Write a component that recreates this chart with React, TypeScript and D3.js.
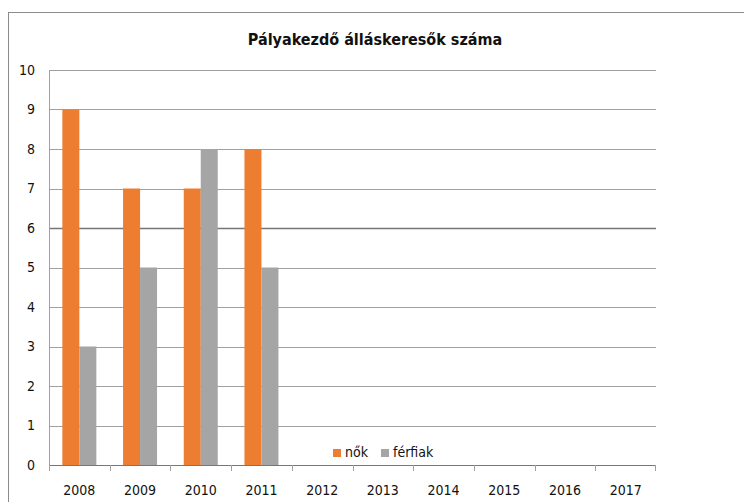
import React from 'react';
import * as d3 from 'd3';

const years = ['2008', '2009', '2010', '2011', '2012', '2013', '2014', '2015', '2016', '2017'];
const nok = [9, 7, 7, 8, null, null, null, null, null, null];
const ferfiak = [3, 5, 8, 5, null, null, null, null, null, null];
const yTicks = [0, 1, 2, 3, 4, 5, 6, 7, 8, 9, 10];
const seriesNames = ['nők', 'férfiak'];
const colors = ['#ed7d31', '#a5a5a5'];

const App = () => {
  const width = 744;
  const height = 502;
  const margin = { top: 70, right: 88, bottom: 37, left: 49 };
  const innerWidth = width - margin.left - margin.right;
  const innerHeight = height - margin.top - margin.bottom;

  const x = d3.scaleBand().domain(years).range([0, innerWidth]).paddingInner(0).paddingOuter(0);
  const y = d3.scaleLinear().domain([0, 10]).range([innerHeight, 0]);
  const barW = 17;
  const font = '"Liberation Sans Narrow", "DejaVu Sans Condensed", "Liberation Sans", sans-serif';

  return (
    <svg width={width} height={height} style={{ position: 'absolute', left: 0, top: 0, background: '#fff' }} fontFamily={font}>
      {/* outer frame */}
      <line x1={8.5} x2={8.5} y1={12} y2={height} stroke="#8c8c8c" />
      <line x1={8} x2={width} y1={12.5} y2={12.5} stroke="#8c8c8c" />
      <text x={375} y={45} textAnchor="middle" fontSize={16} fontWeight="bold" fill="#111">
        Pályakezdő álláskeresők száma
      </text>
      <g transform={`translate(${margin.left},${margin.top})`}>
        {yTicks.map((t) => (
          <g key={t}>
            <line x1={0} x2={innerWidth} y1={Math.round(y(t)) + 0.5} y2={Math.round(y(t)) + 0.5}
              stroke={t === 6 || t === 0 ? '#767676' : '#a0a0a0'} strokeWidth={t === 6 ? 1.5 : 1} />
            <text x={-14} y={y(t)} dy="0.35em" textAnchor="end" fontSize={14} fill="#111">{t}</text>
          </g>
        ))}
        <line x1={0.5} x2={0.5} y1={0} y2={innerHeight} stroke="#a0a0a0" />
        {years.map((yr, i) => {
          const cx = (x(yr) ?? 0) + x.bandwidth() / 2;
          return (
            <g key={yr}>
              <line x1={Math.round(x(yr) ?? 0) + 0.5} x2={Math.round(x(yr) ?? 0) + 0.5} y1={innerHeight} y2={innerHeight + 6} stroke="#a0a0a0" />
              {nok[i] != null && (
                <rect x={cx - barW} y={y(nok[i] as number)} width={barW} height={innerHeight - y(nok[i] as number)} fill={colors[0]} />
              )}
              {ferfiak[i] != null && (
                <rect x={cx} y={y(ferfiak[i] as number)} width={barW} height={innerHeight - y(ferfiak[i] as number)} fill={colors[1]} />
              )}
              <text x={cx} y={innerHeight + 25} dy="0.35em" textAnchor="middle" fontSize={14} fill="#111">{yr}</text>
            </g>
          );
        })}
        <line x1={innerWidth - 0.5} x2={innerWidth - 0.5} y1={innerHeight} y2={innerHeight + 6} stroke="#a0a0a0" />
      </g>
      {/* legend */}
      <g>
        <rect x={333} y={449} width={8} height={8} fill={colors[0]} />
        <text x={345} y={457} fontSize={14} fill="#111">{seriesNames[0]}</text>
        <rect x={381} y={449} width={8} height={8} fill={colors[1]} />
        <text x={393} y={457} fontSize={14} fill="#111">{seriesNames[1]}</text>
      </g>
    </svg>
  );
};

export default App;
